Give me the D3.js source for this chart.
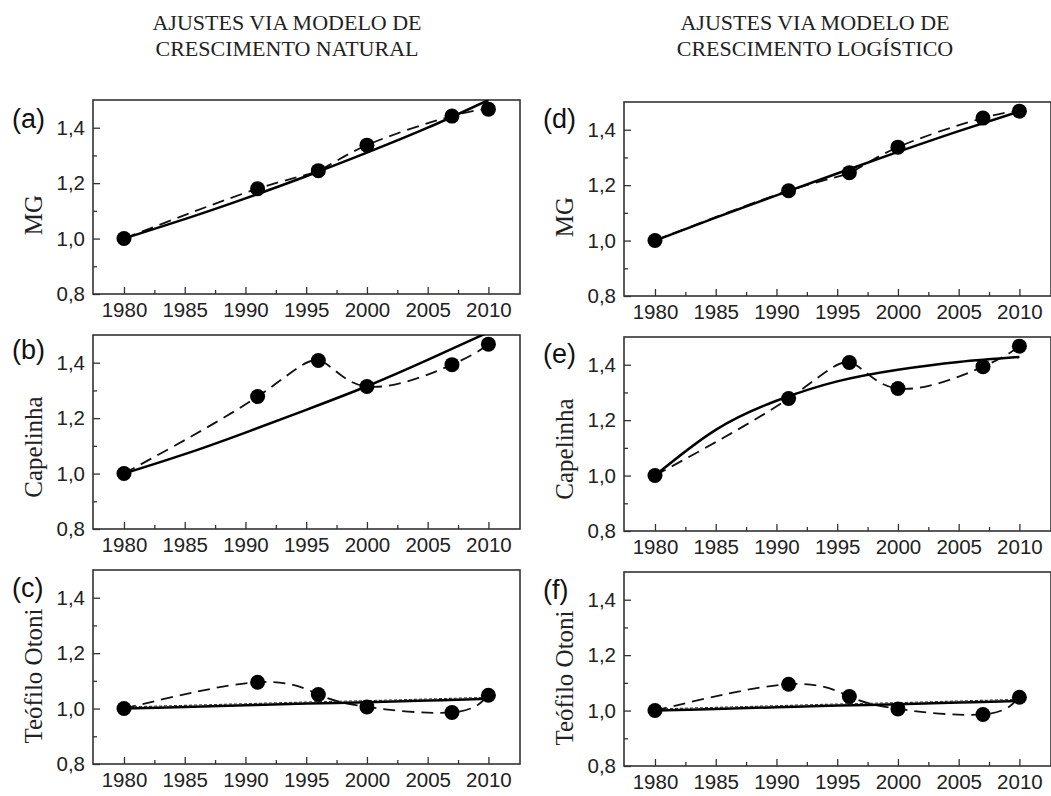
<!DOCTYPE html>
<html>
<head>
<meta charset="utf-8">
<script src="https://cdn.jsdelivr.net/npm/d3@7"></script>
<style>
  body { margin: 0; background: #fff; }
  .tick text { font-family: "Liberation Sans", Arial, sans-serif; font-size: 20.5px; fill: #222; }
  .axis path { display: none; }
  .axis line { stroke: #333; stroke-width: 1.3; }
</style>
</head>
<body>
<div id="chart"></div>
<script>
// census years and normalised population (pop / pop1980)
var years = [1980, 1991, 1996, 2000, 2007, 2010];
var mgData = [1.0, 1.18, 1.245, 1.337, 1.442, 1.467];
var capelinhaData = [1.0, 1.278, 1.408, 1.314, 1.393, 1.467];
var teofiloData = [1.0, 1.095, 1.051, 1.006, 0.986, 1.048];

// fitted curves at 5 year steps
var fitYears = [1980, 1985, 1990, 1995, 2000, 2005, 2010];
var mgNatural = [1.0, 1.07, 1.145, 1.225, 1.31, 1.40, 1.50];
var capelinhaNatural = [1.0, 1.07, 1.148, 1.23, 1.315, 1.41, 1.51];
var teofiloNatural = [1.0, 1.006, 1.012, 1.018, 1.023, 1.029, 1.035];
var mgLogistic = [1.0, 1.083, 1.163, 1.242, 1.32, 1.395, 1.466];
var capelinhaLogistic = [1.0, 1.165, 1.27, 1.34, 1.382, 1.41, 1.428];
var teofiloLogistic = [1.0, 1.006, 1.012, 1.018, 1.023, 1.029, 1.035];

var xTicks = [1980, 1985, 1990, 1995, 2000, 2005, 2010];
var yTicks = [0.8, 1.0, 1.2, 1.4];
var yTickLabels = ["0,8", "1,0", "1,2", "1,4"];

var titles = [
  ["AJUSTES VIA MODELO DE", "CRESCIMENTO NATURAL"],
  ["AJUSTES VIA MODELO DE", "CRESCIMENTO LOGÍSTICO"]
];

var panels = [
  {tag: "(a)", name: "MG", data: mgData, fit: mgNatural, col: 0, row: 0},
  {tag: "(b)", name: "Capelinha", data: capelinhaData, fit: capelinhaNatural, col: 0, row: 1},
  {tag: "(c)", name: "Teófilo Otoni", data: teofiloData, fit: teofiloNatural, col: 0, row: 2, dotted: true},
  {tag: "(d)", name: "MG", data: mgData, fit: mgLogistic, col: 1, row: 0},
  {tag: "(e)", name: "Capelinha", data: capelinhaData, fit: capelinhaLogistic, col: 1, row: 1},
  {tag: "(f)", name: "Teófilo Otoni", data: teofiloData, fit: teofiloLogistic, col: 1, row: 2, dotted: true}
];

var width = 1051, height = 796;
var colLeft = [93, 624];
var colOffset = [0, 2];
var tagX = [12, 543];
// baseline of the (a)..(f) tags, measured from the panel top
var tagY = [[28, 24, 27], [26, 26, 27]];
// the rotated y titles sit a bit below the panel middle
var labelShift = [18, 15, 9];
var rowBottom = [294, 529, 764];
var plotW = 427, plotH = 194;

var svg = d3.select("#chart").append("svg")
    .attr("width", width)
    .attr("height", height)
    .style("background", "#fff");

// titles
titles.forEach(function (t, i) {
    var cx = i === 0 ? 287 : 815;
    t.forEach(function (line, j) {
        svg.append("text")
            .attr("x", cx)
            .attr("y", 30 + j * 26)
            .attr("text-anchor", "middle")
            .style("font-family", "'Liberation Serif', 'Times New Roman', serif")
            .style("font-size", "22px")
            .style("fill", "#222")
            .text(line);
    });
});

var defs = svg.append("defs");

panels.forEach(function (p, k) {
    var left = colLeft[p.col];
    var bottom = rowBottom[p.row] + colOffset[p.col];
    var top = bottom - plotH;

    var x = d3.scaleLinear().domain([1977.45, 2012.6]).range([0, plotW]);
    var y = d3.scaleLinear().domain([0.8, 1.5]).range([plotH, 0]);

    var g = svg.append("g").attr("transform", "translate(" + left + "," + top + ")");

    defs.append("clipPath").attr("id", "clip" + k)
        .append("rect").attr("width", plotW).attr("height", plotH);

    // axes: inward ticks
    g.append("g").attr("class", "axis")
        .attr("transform", "translate(0," + plotH + ")")
        .call(d3.axisBottom(x).tickValues(xTicks).tickFormat(d3.format("d"))
            .tickSize(-7).tickPadding(8));
    g.append("g").attr("class", "axis")
        .attr("transform", "translate(0," + plotH + ")")
        .call(d3.axisBottom(x).tickValues(xTicks.slice(0, -1).map(function (d) { return d + 2.5; }))
            .tickFormat("").tickSize(-4));
    g.append("g").attr("class", "axis")
        .call(d3.axisLeft(y).tickValues(yTicks)
            .tickFormat(function (d, i) { return yTickLabels[i]; })
            .tickSize(-7).tickPadding(8));
    g.append("g").attr("class", "axis")
        .call(d3.axisLeft(y).tickValues([0.9, 1.1, 1.3]).tickFormat("").tickSize(-4));

    // frame
    g.append("rect")
        .attr("width", plotW).attr("height", plotH)
        .attr("fill", "none")
        .attr("stroke", "#333")
        .attr("stroke-width", 1.6);

    var plot = g.append("g").attr("clip-path", "url(#clip" + k + ")");

    // spline through data (dashed)
    var dashLine = d3.line()
        .x(function (d, i) { return x(years[i]); })
        .y(function (d) { return y(d); })
        .curve(d3.curveNatural);
    plot.append("path")
        .attr("d", dashLine(p.data))
        .attr("fill", "none")
        .attr("stroke", "#111")
        .attr("stroke-width", 1.8)
        .attr("stroke-dasharray", "12,7");

    // fitted model (solid)
    var fitLine = d3.line()
        .x(function (d, i) { return x(fitYears[i]); })
        .y(function (d) { return y(d); })
        .curve(d3.curveNatural);
    plot.append("path")
        .attr("d", fitLine(p.fit))
        .attr("fill", "none")
        .attr("stroke", "#000")
        .attr("stroke-width", 2.5);
    if (p.dotted) {
        plot.append("path")
            .attr("d", fitLine(p.fit))
            .attr("transform", "translate(0,-1.5)")
            .attr("fill", "none")
            .attr("stroke", "#333")
            .attr("stroke-width", 1.2)
            .attr("stroke-dasharray", "3,2");
    }

    // data points
    g.selectAll(".dot")
        .data(p.data)
        .enter().append("circle")
        .attr("cx", function (d, i) { return x(years[i]); })
        .attr("cy", function (d) { return y(d); })
        .attr("r", 7.5)
        .attr("fill", "#000");

    // panel tag and y label
    g.append("text")
        .attr("x", tagX[p.col] - left)
        .attr("y", tagY[p.col][p.row])
        .style("font-family", "'Liberation Sans', Arial, sans-serif")
        .style("font-size", "27px")
        .style("fill", "#111")
        .text(p.tag);

    g.append("text")
        .attr("transform", "translate(" + (-51) + "," + (plotH / 2 + labelShift[p.row]) + ") rotate(-90)")
        .attr("text-anchor", "middle")
        .style("font-family", "'Liberation Serif', 'Times New Roman', serif")
        .style("font-size", "25px")
        .style("fill", "#222")
        .text(p.name);
});
</script>
</body>
</html>
